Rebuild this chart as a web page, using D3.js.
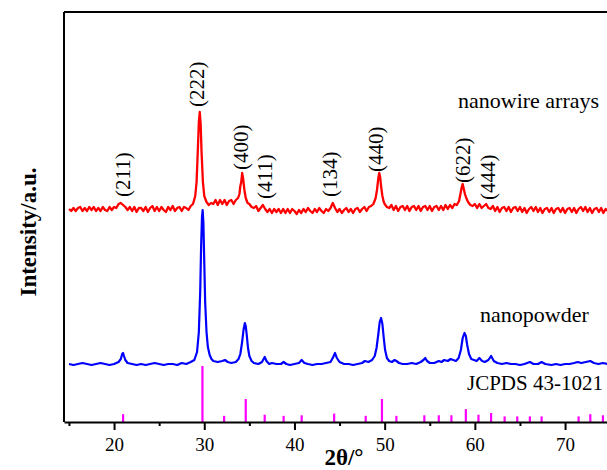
<!DOCTYPE html>
<html>
<head>
<meta charset="utf-8">
<script src="https://cdn.jsdelivr.net/npm/d3@7"></script>
<style>
    body { margin: 0; background: #fff; }
    svg { display: block; font-family: "Liberation Serif", "Times New Roman", serif; }
</style>
</head>
<body>
<div id="chart"></div>
<script>
// 2theta (deg), intensity (a.u., stacked offsets already included)
const nanowire = [
    [15.0, 213], [15.25, 211], [15.5, 214], [15.75, 211], [16.0, 214], [16.25, 215], [16.5, 211], [16.75, 214],
    [17.0, 211], [17.25, 215], [17.5, 212], [17.75, 215], [18.0, 211], [18.25, 214], [18.5, 211], [18.75, 215],
    [19.0, 212], [19.25, 211], [19.5, 215], [19.75, 212], [20.0, 215], [20.25, 214], [20.5, 218], [20.75, 219],
    [21.0, 217], [21.25, 215], [21.5, 212], [21.75, 215], [22.0, 211], [22.25, 215], [22.5, 210], [22.75, 214],
    [23.0, 214], [23.25, 211], [23.5, 215], [23.75, 210], [24.0, 214], [24.25, 216], [24.5, 211], [24.75, 215],
    [25.0, 211], [25.25, 215], [25.5, 212], [25.75, 210], [26.0, 215], [26.25, 212], [26.5, 216], [26.75, 211],
    [27.0, 214], [27.25, 215], [27.5, 211], [27.75, 215], [28.0, 214], [28.25, 212], [28.5, 216], [28.75, 218],
    [29.0, 226], [29.15, 240], [29.3, 275], [29.4, 300], [29.5, 310], [29.6, 298], [29.7, 270], [29.85, 240],
    [30.0, 226], [30.25, 220], [30.5, 217], [30.75, 219], [31.0, 218], [31.25, 222], [31.5, 217], [31.75, 222],
    [32.0, 218], [32.25, 222], [32.5, 217], [32.75, 221], [33.0, 222], [33.25, 218], [33.5, 222], [33.75, 224],
    [33.9, 228], [34.0, 236], [34.1, 240], [34.2, 249], [34.3, 244], [34.45, 232], [34.6, 224], [34.8, 219],
    [35.0, 218], [35.25, 215], [35.5, 214], [35.75, 216], [36.0, 211], [36.25, 214], [36.5, 217], [36.75, 213],
    [37.0, 210], [37.25, 213], [37.5, 209], [37.75, 213], [38.0, 210], [38.25, 213], [38.5, 209], [38.75, 213],
    [39.0, 209], [39.25, 213], [39.5, 209], [39.75, 213], [40.0, 211], [40.25, 208], [40.5, 212], [40.75, 209],
    [41.0, 213], [41.25, 210], [41.5, 214], [41.75, 211], [42.0, 209], [42.25, 213], [42.5, 210], [42.75, 214],
    [43.0, 211], [43.25, 209], [43.5, 213], [43.75, 211], [44.0, 214], [44.25, 219], [44.5, 214], [44.75, 210],
    [45.0, 213], [45.25, 209], [45.5, 212], [45.75, 214], [46.0, 210], [46.25, 213], [46.5, 209], [46.75, 213],
    [47.0, 214], [47.25, 210], [47.5, 213], [47.75, 215], [48.0, 211], [48.25, 215], [48.5, 216], [48.75, 218],
    [49.0, 224], [49.15, 232], [49.3, 244], [49.4, 249], [49.5, 245], [49.6, 236], [49.75, 226], [49.9, 220],
    [50.0, 218], [50.25, 215], [50.5, 214], [50.75, 217], [51.0, 212], [51.25, 216], [51.5, 211], [51.75, 215],
    [52.0, 216], [52.25, 212], [52.5, 216], [52.75, 211], [53.0, 215], [53.25, 216], [53.5, 212], [53.75, 216],
    [54.0, 211], [54.25, 215], [54.5, 216], [54.75, 212], [55.0, 216], [55.25, 211], [55.5, 215], [55.75, 216],
    [56.0, 212], [56.25, 216], [56.5, 212], [56.75, 217], [57.0, 213], [57.25, 217], [57.5, 214], [57.75, 218],
    [58.0, 217], [58.25, 221], [58.4, 228], [58.55, 235], [58.65, 238], [58.75, 234], [58.9, 228], [59.05, 224],
    [59.25, 220], [59.5, 217], [59.75, 216], [60.0, 218], [60.25, 214], [60.5, 218], [60.75, 214], [61.0, 216],
    [61.25, 218], [61.5, 214], [61.75, 213], [62.0, 216], [62.25, 211], [62.5, 215], [62.75, 210], [63.0, 214],
    [63.25, 215], [63.5, 211], [63.75, 215], [64.0, 210], [64.25, 214], [64.5, 215], [64.75, 211], [65.0, 215],
    [65.25, 210], [65.5, 214], [65.75, 209], [66.0, 213], [66.25, 215], [66.5, 211], [66.75, 215], [67.0, 210],
    [67.25, 214], [67.5, 209], [67.75, 213], [68.0, 214], [68.25, 210], [68.5, 214], [68.75, 209], [69.0, 213],
    [69.25, 214], [69.5, 210], [69.75, 214], [70.0, 209], [70.25, 213], [70.5, 214], [70.75, 210], [71.0, 214],
    [71.25, 209], [71.5, 213], [71.75, 215], [72.0, 211], [72.25, 215], [72.5, 210], [72.75, 214], [73.0, 209],
    [73.25, 213], [73.5, 214], [73.75, 210], [74.0, 214], [74.25, 209], [74.5, 213], [74.75, 211]
];

const nanopowder = [
    [15.0, 58], [15.5, 57], [16.0, 58], [16.5, 59], [17.0, 58], [17.5, 57], [18.0, 58], [18.5, 59],
    [19.0, 58], [19.5, 57], [20.0, 58], [20.5, 60], [20.75, 63], [20.9, 68], [21.0, 69], [21.1, 66],
    [21.25, 62], [21.5, 59], [22.0, 58], [22.5, 57], [23.0, 58], [23.5, 57], [24.0, 58], [24.5, 59],
    [25.0, 58], [25.5, 57], [26.0, 58], [26.5, 58], [27.0, 57], [27.5, 59], [28.0, 58], [28.5, 60],
    [28.9, 62], [29.2, 70], [29.4, 90], [29.55, 130], [29.65, 175], [29.75, 205], [29.82, 212], [29.9, 200],
    [30.0, 160], [30.1, 120], [30.25, 90], [30.4, 75], [30.6, 67], [30.8, 63], [31.0, 61], [31.5, 60],
    [32.0, 61], [32.3, 62], [32.6, 60], [33.0, 59], [33.5, 60], [33.8, 63], [34.0, 68], [34.2, 80],
    [34.35, 92], [34.5, 99], [34.6, 96], [34.7, 88], [34.85, 74], [35.0, 66], [35.25, 61], [35.5, 59],
    [36.0, 58], [36.4, 60], [36.7, 65], [36.9, 61], [37.2, 58], [37.5, 59], [38.0, 58], [38.5, 58],
    [38.8, 60], [39.1, 58], [39.5, 57], [40.0, 58], [40.5, 59], [40.8, 62], [41.1, 59], [41.5, 58],
    [42.0, 57], [42.5, 58], [43.0, 58], [43.5, 59], [44.0, 60], [44.3, 65], [44.5, 69], [44.7, 64],
    [45.0, 60], [45.5, 58], [46.0, 58], [46.5, 57], [47.0, 58], [47.5, 59], [47.8, 61], [48.2, 60],
    [48.6, 62], [48.9, 66], [49.1, 74], [49.3, 88], [49.45, 100], [49.6, 104], [49.75, 98], [49.9, 84],
    [50.05, 72], [50.25, 64], [50.5, 61], [50.8, 60], [51.1, 62], [51.3, 61], [51.6, 59], [52.0, 58],
    [52.5, 58], [53.0, 59], [53.5, 58], [54.0, 60], [54.3, 62], [54.5, 64], [54.7, 61], [55.0, 59],
    [55.5, 59], [56.0, 61], [56.3, 60], [56.6, 62], [57.0, 61], [57.3, 63], [57.6, 62], [57.9, 61],
    [58.2, 64], [58.45, 72], [58.65, 84], [58.85, 89], [59.0, 86], [59.15, 77], [59.35, 68], [59.6, 63],
    [59.9, 62], [60.2, 61], [60.5, 64], [60.8, 61], [61.1, 60], [61.5, 62], [61.8, 66], [62.1, 61],
    [62.5, 59], [63.0, 58], [63.5, 59], [64.0, 58], [64.5, 58], [65.0, 57], [65.5, 58], [66.1, 60],
    [66.5, 58], [67.0, 58], [67.4, 60], [67.8, 58], [68.5, 57], [69.0, 58], [69.5, 57], [70.0, 58],
    [70.5, 58], [71.0, 59], [71.4, 60], [71.8, 59], [72.3, 60], [72.8, 61], [73.2, 59], [73.7, 58],
    [74.2, 59], [74.7, 58]
];

// JCPDS 43-1021 reference lines: 2theta and relative intensity
const jcpdsTheta = [21.0, 29.8, 32.2, 34.6, 36.7, 38.8, 40.8, 44.4, 47.9, 49.7, 51.3, 54.4,
    56.0, 57.4, 59.0, 60.4, 61.8, 63.3, 64.7, 66.1, 67.4, 71.5, 72.8, 74.2];
const jcpdsInt = [14, 100, 11, 41, 13, 11, 12, 15, 11, 41, 11, 12,
    12, 12, 23, 13, 16, 10, 10, 10, 10, 10, 14, 12];

// Miller index labels: text, 2theta, intensity where the label starts
const hklText = ["(211)", "(222)", "(400)", "(411)", "(134)", "(440)", "(622)", "(444)"];
const hklTheta = [20.9, 29.2, 34.0, 36.7, 43.9, 49.0, 58.6, 61.4];
const hklInt = [225, 315, 252, 223, 225, 250, 239, 222];

const majorTicks = [20, 30, 40, 50, 60, 70];
const minorTicks = [15, 25, 35, 45, 55, 65, 75];

const W = 607, H = 470;
const plotLeft = 64, plotTop = 12, plotBottom = 422;

const svg = d3.select("#chart")
    .append("svg")
    .attr("width", W)
    .attr("height", H);

const x = d3.scaleLinear()
    .domain([14.45, 74.65])
    .range([plotLeft, W]);

const y = d3.scaleLinear()
    .domain([0, 410])
    .range([plotBottom, plotTop]);

const yStick = d3.scaleLinear()
    .domain([0, 100])
    .range([plotBottom, plotBottom - 56]);

// reference sticks
svg.selectAll(".stick")
    .data(jcpdsTheta)
    .enter()
    .append("line")
    .attr("class", "stick")
    .attr("x1", d => x(d))
    .attr("x2", d => x(d))
    .attr("y1", yStick(0))
    .attr("y2", (d, i) => yStick(jcpdsInt[i]))
    .attr("stroke", "#ff00ff")
    .attr("stroke-width", 2.2);

const line = d3.line()
    .x(d => x(d[0]))
    .y(d => y(d[1]));

svg.append("path")
    .datum(nanopowder)
    .attr("d", line)
    .attr("fill", "none")
    .attr("stroke", "#0000ff")
    .attr("stroke-width", 2.2)
    .attr("stroke-linejoin", "round");

svg.append("path")
    .datum(nanowire)
    .attr("d", line)
    .attr("fill", "none")
    .attr("stroke", "#ff0000")
    .attr("stroke-width", 2.3)
    .attr("stroke-linejoin", "round");

// frame: left and top lines
svg.append("line")
    .attr("x1", plotLeft).attr("x2", plotLeft)
    .attr("y1", plotTop).attr("y2", plotBottom)
    .attr("stroke", "#000")
    .attr("stroke-width", 2);

svg.append("line")
    .attr("x1", plotLeft).attr("x2", W)
    .attr("y1", plotTop).attr("y2", plotTop)
    .attr("stroke", "#000")
    .attr("stroke-width", 2);

// x axis
const xAxis = svg.append("g")
    .attr("transform", `translate(0,${plotBottom})`)
    .call(d3.axisBottom(x).tickValues(majorTicks).tickSize(8).tickPadding(8).tickSizeOuter(0));

xAxis.select(".domain")
    .attr("stroke-width", 2);

xAxis.selectAll(".tick line")
    .attr("stroke-width", 2);

xAxis.selectAll("text")
    .style("font-family", "Liberation Serif")
    .style("font-size", "19px")
    .style("fill", "#000");

svg.append("g")
    .attr("transform", `translate(0,${plotBottom})`)
    .call(d3.axisBottom(x).tickValues(minorTicks).tickSize(4).tickFormat(""))
    .call(g => g.select(".domain").remove())
    .selectAll(".tick line")
    .attr("stroke-width", 2);

svg.append("text")
    .attr("x", 344)
    .attr("y", 465)
    .attr("text-anchor", "middle")
    .style("font-size", "23px")
    .style("font-weight", "bold")
    .text("2θ/°");

svg.append("text")
    .attr("transform", "translate(36,232) rotate(-90)")
    .attr("text-anchor", "middle")
    .style("font-size", "23px")
    .style("font-weight", "bold")
    .text("Intensity/a.u.");

// peak labels
svg.selectAll(".hkl")
    .data(hklText)
    .enter()
    .append("text")
    .attr("class", "hkl")
    .attr("transform", (d, i) => `translate(${x(hklTheta[i])},${y(hklInt[i])}) rotate(-90)`)
    .attr("dy", "0.35em")
    .style("font-size", "21px")
    .text(d => d);

// sample labels
svg.append("text")
    .attr("x", 458)
    .attr("y", 108)
    .style("font-size", "22px")
    .text("nanowire arrays");

svg.append("text")
    .attr("x", 480)
    .attr("y", 322)
    .style("font-size", "22px")
    .text("nanopowder");

svg.append("text")
    .attr("x", 467)
    .attr("y", 390)
    .style("font-size", "21px")
    .text("JCPDS 43-1021");
</script>
</body>
</html>
